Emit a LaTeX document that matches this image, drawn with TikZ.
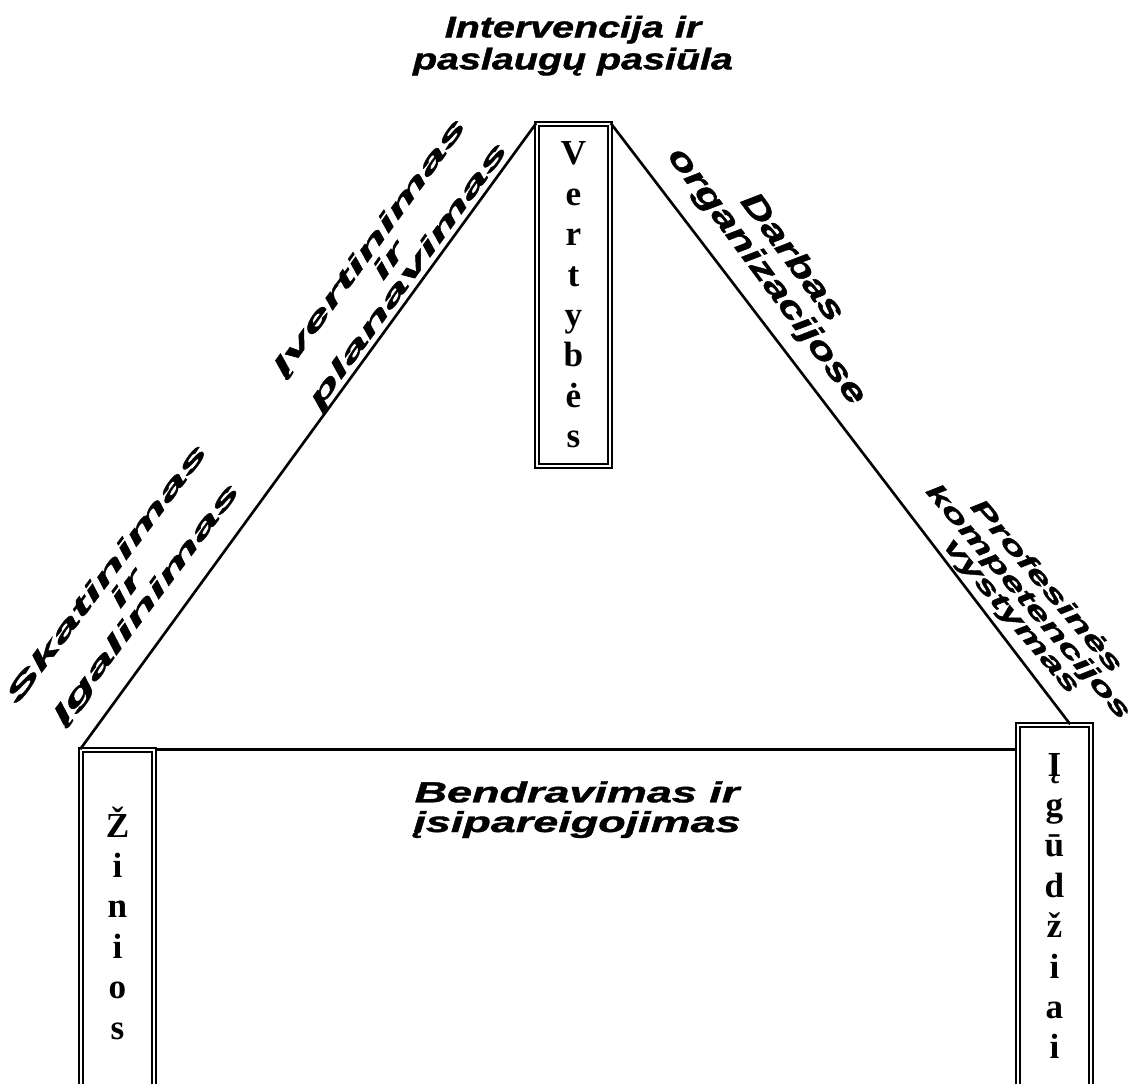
\documentclass[tikz,border=0pt]{standalone}
\usepackage{fontspec}
\setmainfont{Liberation Serif}
\newfontfamily\wafont[BoldItalicFeatures={FakeBold=1.2}]{Liberation Sans}
\usepackage{graphicx}
\usetikzlibrary{calc}

\newcommand{\stretchtext}[2]{\scalebox{#1}[1]{\begin{tabular}{@{}c@{}}#2\end{tabular}}}

\begin{document}
\begin{tikzpicture}[x = 0.02cm, y = -0.02cm]

\tikzstyle{box_v}=[rectangle, draw = black, line width = 0.9pt, double = white, double distance = 1.6pt, minimum width = 1.46cm, inner sep = 0pt, align = center]
\tikzstyle{word_art}=[inner sep = 0pt]
\tikzstyle{edge}=[line width = 1.5pt, color = black]

\useasboundingbox (0, 0) rectangle (1137, 1084);
\clip (0, 0) rectangle (1137, 1084);

\coordinate (V) at (573.5, 295);
\coordinate (Z) at (117.5, 923);
\coordinate (G) at (1054.5, 906);

% boxes
\path
(V) node[box_v, minimum height = 6.84cm, font = \bfseries\fontsize{20}{23}\selectfont] (vert) {V\\e\\r\\t\\y\\b\\ė\\s}
(Z) node[box_v, minimum height = 6.92cm, font = \bfseries\fontsize{20}{23}\selectfont] (zin) {Ž\\i\\n\\i\\o\\s}
(G) node[box_v, minimum height = 7.24cm, font = \bfseries\fontsize{20}{23}\selectfont] (igu) {Į\\g\\ū\\d\\ž\\i\\a\\i};

% texts
\path
(573, 47) node[word_art, font = \wafont\bfseries\itshape\fontsize{17}{18.2}\selectfont] (interv) {\stretchtext{1.32}{Intervencija ir\\paslaugų pasiūla}}
(577, 811) node[word_art, font = \wafont\bfseries\itshape\fontsize{16.5}{16.5}\selectfont] (bendr) {\stretchtext{1.55}{Bendravimas ir\\įsipareigojimas}}
(390, 262) node[word_art, rotate = 54, font = \wafont\bfseries\itshape\fontsize{14}{11.4}\selectfont] (ivert) {\stretchtext{2.4}{Įvertinimas\\ir\\planavimas}}
(128, 590) node[word_art, rotate = 53, font = \wafont\bfseries\itshape\fontsize{14}{13}\selectfont] (skat) {\stretchtext{2.45}{Skatinimas\\ir\\Įgalinimas}}
(778, 268) node[word_art, rotate = -53.5, font = \wafont\bfseries\itshape\fontsize{18}{16.5}\selectfont] (darb) {\stretchtext{1.42}{Darbas\\organizacijose}}
(1028, 602) node[word_art, rotate = -49.5, font = \wafont\bfseries\itshape\fontsize{14}{11.5}\selectfont] (prof) {\stretchtext{1.75}{Profesinės\\kompetencijos\\vystymas}};

\coordinate (igu_top) at ($(igu.north west)!0.71!(igu.north east)$);

%triangle lines
\draw[edge] (vert.north west) to (zin.north west);
\draw[edge] (vert.north east) to (igu_top);
\draw[edge] (zin.north east) to (zin.north east -| igu.west);

\end{tikzpicture}
\end{document}
